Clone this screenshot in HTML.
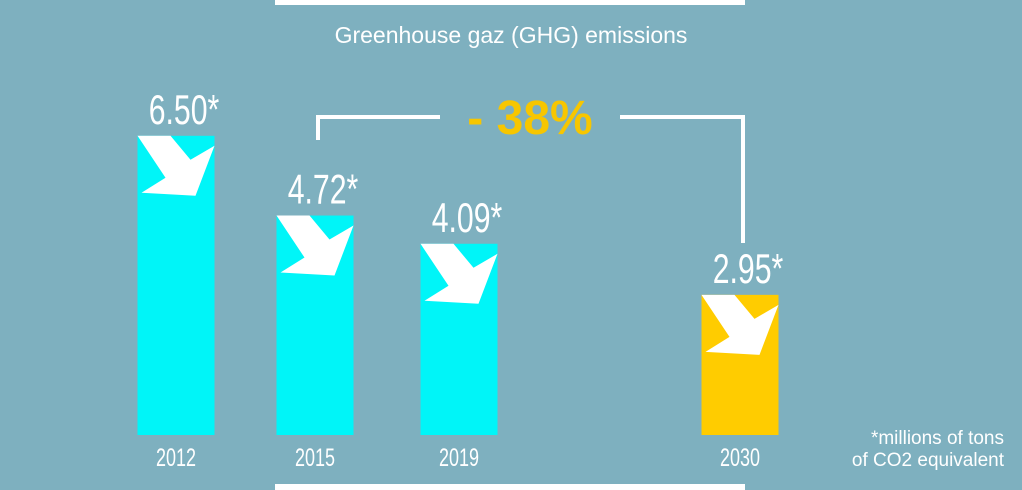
<!DOCTYPE html>
<html><head><meta charset="utf-8"><style>
body{margin:0;width:1022px;height:490px;overflow:hidden;background:#7eb0bf;font-family:"Liberation Sans",sans-serif}
svg{display:block}
</style></head><body>
<svg width="1022" height="490">
<rect x="0" y="0" width="1022" height="490" fill="#7eb0bf"/>
<rect x="275" y="0" width="470" height="5" fill="#fff"/>
<rect x="275" y="484" width="470" height="6" fill="#fff"/>
<text x="511" y="43" text-anchor="middle" font-size="23" fill="#fff">Greenhouse gaz (GHG) emissions</text>
<g id="bars"></g>
<polyline points="318,140 318,117 440,117" fill="none" stroke="#fff" stroke-width="4"/>
<polyline points="620,117 743,117 743,243" fill="none" stroke="#fff" stroke-width="4"/>
<text x="530" y="134" text-anchor="middle" font-size="48" font-weight="bold" fill="#f7c600">- 38%</text>
<text x="1004" y="444" text-anchor="end" font-size="19" fill="#fff">*millions of tons</text>
<text x="1004" y="466" text-anchor="end" font-size="19" fill="#fff">of CO2 equivalent</text>
</svg>
<script>
const categories=["2012","2015","2019","2030"];
const values=[6.50,4.72,4.09,2.95];
const labels=["6.50","4.72","4.09","2.95"];
const xCenters=[176,315,459,740];
const base=435, scale=44.8, offset=8, bw=77;
function y(v){return base-(offset+v*scale);}
const g=document.getElementById('bars');
const NS="http://www.w3.org/2000/svg";
categories.forEach((c,i)=>{
  const top=y(values[i]), x=xCenters[i]-bw/2;
  const r=document.createElementNS(NS,'rect');
  r.setAttribute('x',x);r.setAttribute('y',top);r.setAttribute('width',bw);r.setAttribute('height',base-top);
  r.setAttribute('fill',i===3?'#ffcc00':'#00f5f8');
  
  
  g.appendChild(r);
  const a=document.createElementNS(NS,'polygon');
  const p=[[0,0],[33,0],[53,24],[77,10],[58,60],[4,57],[28,42]];
  a.setAttribute('points',p.map(q=>(x+q[0])+','+(top+q[1])).join(' '));
  a.setAttribute('fill','#fff');
  
  
  g.appendChild(a);
  const t=document.createElementNS(NS,'text');
  const cx=xCenters[i]+8;
  t.setAttribute('x',cx);t.setAttribute('y',top-12);
  t.setAttribute('text-anchor','middle');t.setAttribute('font-size','42');
  t.setAttribute('fill','#fff');
  t.setAttribute('transform','translate('+cx+',0) scale(0.72,1) translate('+(-cx)+',0)');
  t.textContent=labels[i]+'*';
  
  
  g.appendChild(t);
  const l=document.createElementNS(NS,'text');
  l.setAttribute('x',xCenters[i]);l.setAttribute('y',466);
  l.setAttribute('text-anchor','middle');l.setAttribute('font-size','25');
  l.setAttribute('fill','#fff');
  l.setAttribute('transform','translate('+xCenters[i]+',0) scale(0.72,1) translate('+(-xCenters[i])+',0)');
  l.textContent=c;
  
  
  g.appendChild(l);
});
</script>
</body></html>
